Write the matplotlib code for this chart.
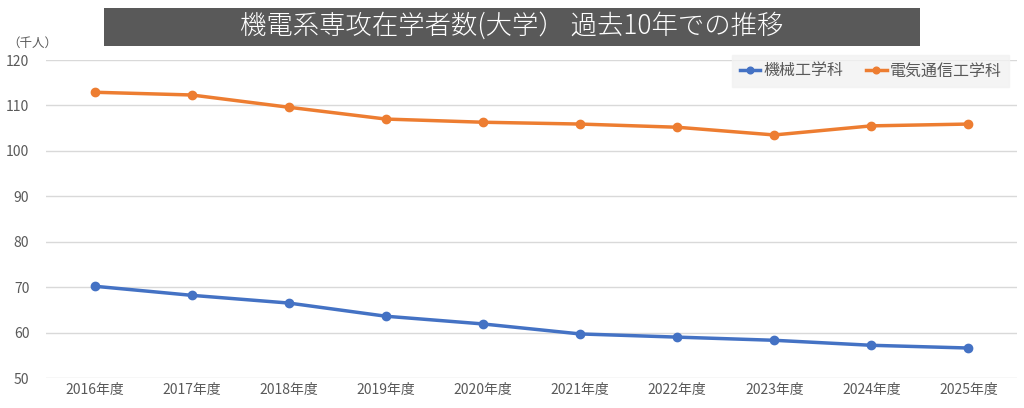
import numpy as np
import matplotlib.pyplot as plt

plt.rcParams['font.family'] = ['Noto Sans CJK JP', 'DejaVu Sans']

years = ['2016年度', '2017年度', '2018年度', '2019年度', '2020年度',
         '2021年度', '2022年度', '2023年度', '2024年度', '2025年度']
mech = [70.2, 68.2, 66.5, 63.6, 61.9, 59.7, 59.0, 58.3, 57.2, 56.6]
elec = [112.9, 112.3, 109.6, 107.0, 106.3, 105.9, 105.2, 103.5, 105.5, 105.9]
yticks = [50, 60, 70, 80, 90, 100, 110, 120]

fig = plt.figure(figsize=(10.24, 4.08), dpi=100)
ax = fig.add_axes([46/1024, 1 - 378/408, (1017-46)/1024, (378-60)/408])

x = np.arange(len(years))
ax.plot(x, mech, color='#4472C4', lw=2.5, marker='o', ms=6, label='機械工学科')
ax.plot(x, elec, color='#ED7D31', lw=2.5, marker='o', ms=6, label='電気通信工学科')

ax.set_xlim(-0.5, len(years) - 0.5)
ax.set_ylim(50, 120)
ax.set_yticks(yticks)
ax.set_xticks(x)
ax.set_xticklabels(years)
ax.grid(axis='y', color='#D9D9D9', lw=1)
ax.set_axisbelow(True)
for s in ax.spines.values():
    s.set_visible(False)
ax.tick_params(length=0, colors='#595959', labelsize=10)
ax.tick_params(axis='y', pad=12)

leg = ax.legend(loc='upper right', ncol=2, frameon=True, fontsize=11.5,
                bbox_to_anchor=(1.0, 1.04), handlelength=1.3, columnspacing=1.4,
                handletextpad=0.2, fancybox=False, borderpad=0.45, markerscale=0.8)
leg.get_frame().set_facecolor('#F2F2F2')
leg.get_frame().set_edgecolor('#F2F2F2')
for t in leg.get_texts():
    t.set_color('#595959')

fig.text(32/1024, 1 - 43/408, '（千人）', fontsize=9, color='#595959',
         ha='center', va='center')

fig.patches.append(plt.Rectangle((104/1024, 1 - 46/408), (920-104)/1024, 38/408,
                                 transform=fig.transFigure, facecolor='#595959',
                                 edgecolor='none'))
fig.text(512/1024, 1 - 26/408, '機電系専攻在学者数(大学） 過去10年での推移',
         fontsize=19, color='white', ha='center', va='center', fontweight='light')

fig.savefig('out.png', dpi=100)
